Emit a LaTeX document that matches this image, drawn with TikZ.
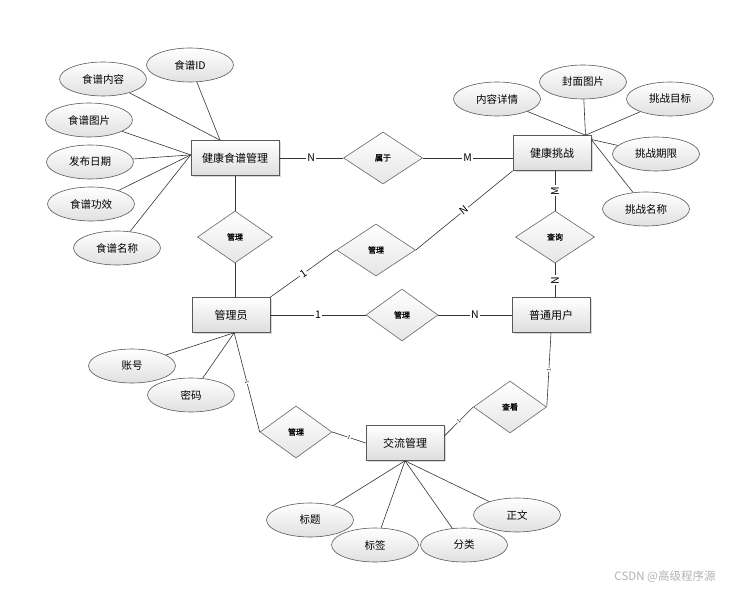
\documentclass[tikz,border=0pt]{standalone}
\usepackage{fontspec}
\setmainfont{Noto Sans CJK SC}
\newfontfamily\relfont[FakeBold=1.2]{Noto Sans CJK SC}
\usetikzlibrary{shapes, positioning, arrows.meta, calc, shadows}

\begin{document}
\begin{tikzpicture}[x=1pt, y=-1pt, line width=0.6pt, draw=black!80,
    ent/.style={rectangle, draw=black!65, top color=white, bottom color=black!13,
        minimum width=78pt, minimum height=35pt, font=\fontsize{11}{11}\selectfont,
        drop shadow={shadow xshift=1.5pt, shadow yshift=-1.5pt, opacity=0.3}},
    rel/.style={diamond, draw=black!60, top color=white, bottom color=black!10,
        minimum width=75pt, minimum height=52pt, inner sep=0pt, font=\relfont\fontsize{8}{8}\selectfont},
    attr/.style={ellipse, draw=black!65, top color=white, bottom color=black!12,
        minimum width=87pt, minimum height=34pt, font=\fontsize{10.5}{11}\selectfont},
    lbl/.style={fill=white, inner sep=1pt, font=\fontsize{10.5}{10.5}\selectfont},
    tick/.style={fill=white, inner sep=0.3pt, sloped, font=\fontsize{5}{5}\selectfont}]
    \useasboundingbox (0,0) rectangle (734,591);

    % entities
    \node[ent, minimum width=88pt] (jpgl) at (235,158) {健康食谱管理};
    \node[ent] (jktz) at (552,153) {健康挑战};
    \node[ent] (gly) at (231,315) {管理员};
    \node[ent] (ptyh) at (551,315) {普通用户};
    \node[ent] (jlgl) at (405,443) {交流管理};

    % relations
    \node[rel, minimum width=79pt] (sy) at (383,158) {属于};
    \node[rel] (gl1) at (235,237) {管理};
    \node[rel, minimum width=79pt] (gl2) at (376,250) {管理};
    \node[rel, minimum width=79pt] (cx) at (555,237) {查询};
    \node[rel, minimum width=72pt] (gl3) at (402,315) {管理};
    \node[rel, minimum width=72pt] (gl4) at (296,432) {管理};
    \node[rel, minimum width=73pt] (ck) at (510,407) {查看};

    % attributes
    \foreach \n/\x/\y/\t in {a1/190/65/食谱ID, a2/103/79/食谱内容, a3/89/120/食谱图片,
        a4/90/162/发布日期, a5/91/204/食谱功效, a6/117/248/食谱名称,
        b1/497/99/内容详情, b2/583/82/封面图片, b3/670/99/挑战目标,
        b4/656/154/挑战期限, b5/646/209/挑战名称,
        c1/132/366/账号, c2/191/395/密码,
        d1/310/520/标题, d2/375/545/标签, d3/464/545/分类, d4/517/515/正文} {
        \node[attr] (\n) at (\x,\y) {\t};
    }

    \foreach \n in {a1,a2} \draw (\n) -- (jpgl.130);
    \foreach \n in {a3,a4,a5,a6} \draw (\n) -- (jpgl.176);
    \foreach \n in {b1,b2,b3} \draw (\n) -- (jktz.28);
    \foreach \n in {b4,b5} \draw (\n) -- (jktz.19);
    \foreach \n in {c1,c2} \draw (\n) -- (gly.280);
    \foreach \n in {d1,d2,d3,d4} \draw (\n) -- (jlgl.south);

    % relationships
    \draw (jpgl) -- node[lbl]{N} (sy);
    \draw (sy.east) -- node[lbl]{M} (sy.east -| jktz.west);
    \draw (jpgl) -- (gl1);
    \draw (gl1.south) -- (gl1.south |- gly.north);
    \draw (gly.north east) -- node[lbl, sloped]{1} (gl2.west);
    \draw (gl2.east) -- node[lbl, sloped]{N} (jktz.south west);
    \draw (cx.north |- jktz.south) -- node[lbl, rotate=90]{M} (cx.north);
    \draw (cx.south) -- node[lbl, rotate=90]{N} (cx.south |- ptyh.north);
    \draw (gly) -- node[lbl]{1} (gl3);
    \draw (gl3) -- node[lbl]{N} (ptyh);
    \draw (gly.280) -- node[tick]{1} (gl4.west);
    \draw (gl4.east) -- node[tick]{1} (jlgl.west);
    \draw (jlgl.10) -- node[tick]{1} (ck.west);
    \draw (ck.east) -- node[tick]{1} (ptyh.south);

    \node[text=black!30, font=\fontsize{11.5}{11.5}\selectfont] (wm) at (665,577) {CSDN @高级程序源};
\end{tikzpicture}
\end{document}
